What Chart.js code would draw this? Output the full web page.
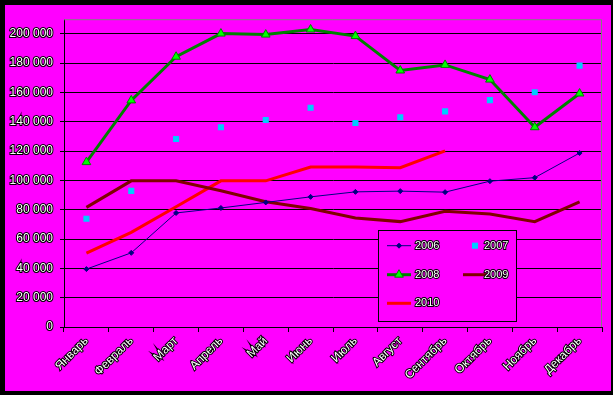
<!DOCTYPE html>
<html>
<head>
<meta charset="utf-8">
<script src="https://cdn.jsdelivr.net/npm/chart.js@4.4.0/dist/chart.umd.min.js"></script>
<style>
  html, body { margin: 0; padding: 0; background: #000; }
  #wrap { position: absolute; left: 5px; top: 5px; width: 606px; height: 386px; background: #ff00ff; }
  canvas { display: block; }
</style>
</head>
<body>
<div id="wrap"><canvas id="grafico" width="606" height="386"></canvas></div>
<script>
// dados do gráfico
const meses = ['Январь', 'Февраль', 'Март', 'Апрель', 'Май', 'Июнь', 'Июль', 'Август', 'Сентябрь', 'Октябрь', 'Ноябрь', 'Декабрь'];
const s2006 = [39500, 50600, 77800, 81200, 85000, 88800, 92200, 92700, 92000, 99500, 101900, 118700];
const s2007 = [73900, 92900, 128300, 136300, 141200, 149600, 139200, 143100, 147100, 154800, 160200, 178300];
const s2008 = [112500, 154600, 184400, 200200, 199500, 203000, 198500, 175000, 178800, 168800, 136300, 159300];
const s2009 = [81600, 99700, 99700, 92900, 85400, 80900, 74400, 71900, 78900, 77100, 71900, 85400];
const s2010 = [50400, 64600, 82000, 99700, 99700, 109100, 109100, 108700, 120200, null, null, null];
const yMax = 210000;
const yTicks = [0, 20000, 40000, 60000, 80000, 100000, 120000, 140000, 160000, 180000, 200000];

function formata(v) {
    return String(v).replace(/\B(?=(\d{3})+(?!\d))/g, ' ');
}

// legenda desenhada dentro do gráfico, em duas colunas
const legendaPlugin = {
    id: 'legendaInterna',
    afterDraw(chart) {
        const ctx = chart.ctx;
        const area = chart.chartArea;
        ctx.save();
        // borda cinza no topo e à direita da área
        ctx.strokeStyle = '#808080';
        ctx.lineWidth = 1;
        ctx.beginPath();
        ctx.moveTo(area.left, area.top + 0.5);
        ctx.lineTo(area.right - 0.5, area.top + 0.5);
        ctx.lineTo(area.right - 0.5, area.bottom);
        ctx.stroke();

        const bx = 373.5, by = 225.5, bw = 138, bh = 91;
        ctx.fillStyle = '#ff00ff';
        ctx.fillRect(bx, by, bw, bh);
        ctx.strokeStyle = '#000';
        ctx.strokeRect(bx, by, bw, bh);

        const linhas = [240.7, 269.7, 298.3];
        const colunas = [382, 458];
        ctx.font = '11px "Liberation Sans"';
        ctx.textBaseline = 'middle';
        chart.data.datasets.forEach(function(ds, i) {
            const x = colunas[i % 2];
            const y = linhas[Math.floor(i / 2)];
            if (ds.showLine !== false) {
                ctx.strokeStyle = ds.borderColor;
                ctx.lineWidth = ds.borderWidth;
                ctx.beginPath();
                ctx.moveTo(x, y);
                ctx.lineTo(x + 24, y);
                ctx.stroke();
            }
            if (ds.pointRadius > 0) {
                ctx.fillStyle = ds.pointBackgroundColor;
                ctx.strokeStyle = ds.pointBorderColor;
                ctx.lineWidth = ds.pointBorderWidth;
                Chart.helpers.drawPoint(ctx, { pointStyle: ds.pointStyle, radius: ds.pointRadius, rotation: 0, borderWidth: ds.pointBorderWidth }, x + 12, y);
            }
            const tx = i % 2 === 0 ? x + 28 : x + 21;
            ctx.lineWidth = 2;
            ctx.strokeStyle = '#000';
            ctx.strokeText(ds.label, tx, y);
            ctx.fillStyle = '#fff';
            ctx.fillText(ds.label, tx, y);
        });
        ctx.restore();
    }
};

const ctx = document.getElementById('grafico').getContext('2d');
new Chart(ctx, {
    type: 'line',
    data: {
        labels: meses,
        datasets: [
            {
                label: '2006', data: s2006,
                borderColor: '#000080', borderWidth: 1,
                pointStyle: 'rectRot', pointRadius: 2.5,
                pointBackgroundColor: '#000080', pointBorderColor: '#000080', pointBorderWidth: 1
            },
            {
                label: '2007', data: s2007, showLine: false,
                borderColor: '#00ccff', borderWidth: 0,
                pointStyle: 'rect', pointRadius: 4.3,
                pointBackgroundColor: '#00ccff', pointBorderColor: '#00ccff', pointBorderWidth: 0
            },
            {
                label: '2008', data: s2008,
                borderColor: '#008000', borderWidth: 3,
                pointStyle: 'triangle', pointRadius: 5,
                pointBackgroundColor: '#00ff00', pointBorderColor: '#008000', pointBorderWidth: 1
            },
            {
                label: '2009', data: s2009,
                borderColor: '#800000', borderWidth: 3, pointRadius: 0
            },
            {
                label: '2010', data: s2010,
                borderColor: '#ff0000', borderWidth: 3, pointRadius: 0
            }
        ]
    },
    options: {
        responsive: false,
        animation: false,
        devicePixelRatio: 1,
        layout: { padding: { left: 0, top: 12, right: 9, bottom: 0 } },
        plugins: { legend: { display: false }, tooltip: { enabled: false } },
        elements: { line: { tension: 0 } },
        scales: {
            x: {
                offset: true,
                grid: { offset: true, drawOnChartArea: false, color: '#000', tickLength: 5 },
                border: { color: '#000', width: 1 },
                ticks: {
                    autoSkip: false, minRotation: 45, maxRotation: 45, padding: 2,
                    color: '#fff', textStrokeColor: '#000', textStrokeWidth: 2,
                    font: { family: 'Liberation Sans', size: 12 }
                },
                afterFit(scale) { scale.height = 64; }
            },
            y: {
                min: 0, max: yMax,
                grid: { color: '#000', tickLength: 4 },
                border: { color: '#000', width: 1 },
                ticks: {
                    padding: 7,
                    color: '#fff', textStrokeColor: '#000', textStrokeWidth: 2,
                    font: { family: 'Liberation Sans', size: 12 },
                    callback: function(v) { return formata(v); }
                },
                afterBuildTicks(scale) { scale.ticks = yTicks.map(v => ({ value: v })); },
                afterFit(scale) { scale.width = 59; }
            }
        }
    },
    plugins: [legendaPlugin]
});
</script>
</body>
</html>
